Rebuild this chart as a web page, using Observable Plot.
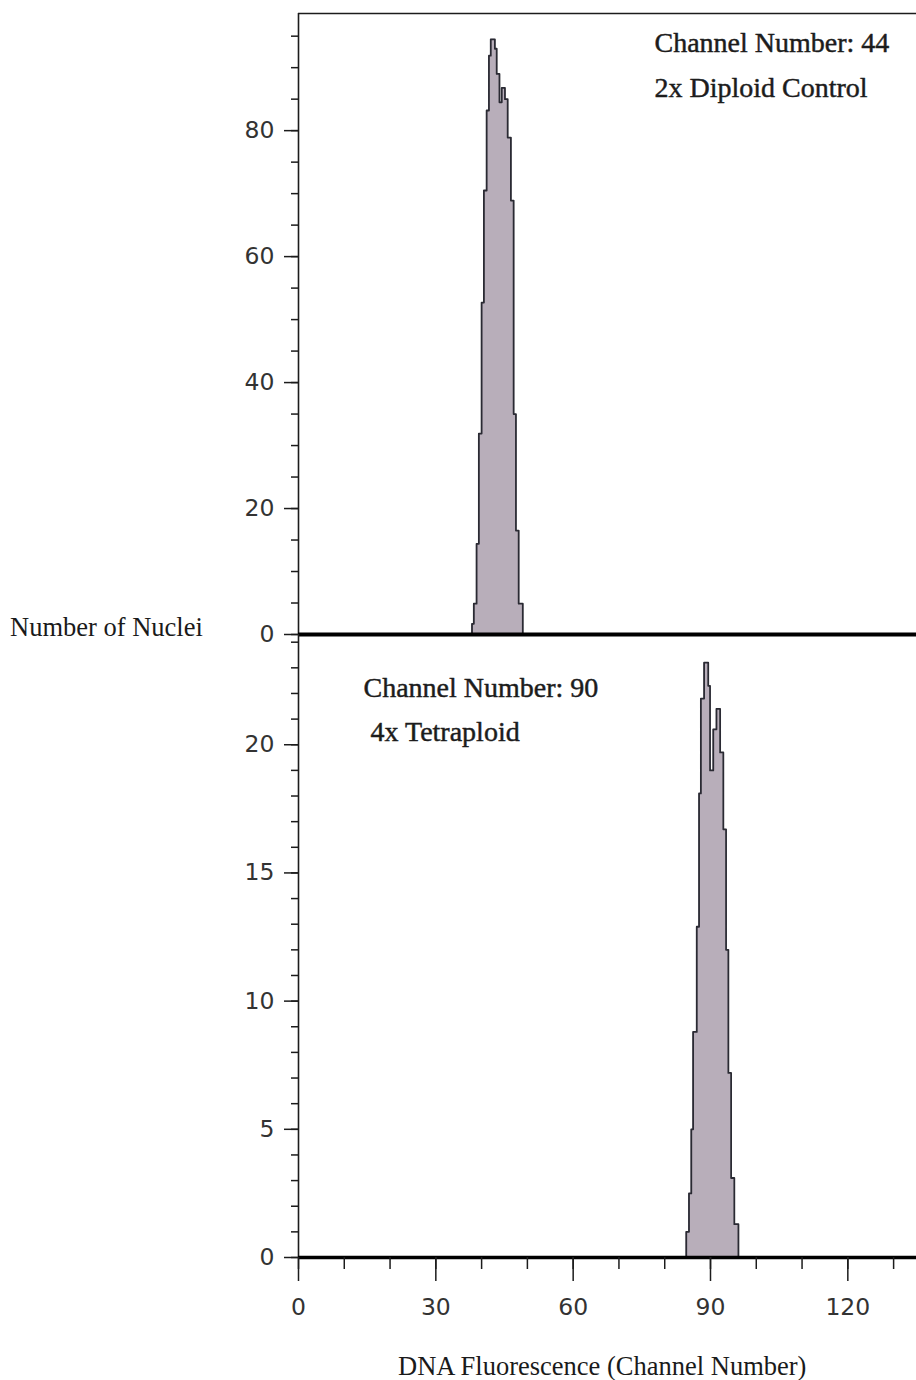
<!DOCTYPE html>
<html>
<head>
<meta charset="utf-8">
<script src="https://cdn.jsdelivr.net/npm/d3@7"></script>
<script src="https://cdn.jsdelivr.net/npm/@observablehq/plot@0.6"></script>
<style>
  html, body { margin: 0; padding: 0; background: #fff; }
  #chart { position: relative; width: 916px; height: 1380px; overflow: hidden; background: #fff; }
  #chart svg { position: absolute; left: 0; overflow: visible; }
  .lbl { position: absolute; font-family: "Liberation Serif", "Times New Roman", serif; color: #1a1a1a; white-space: nowrap; line-height: 1; }
</style>
</head>
<body>
<div id="chart"></div>
<script>
// ---- data ----
const xTicks = [0, 30, 60, 90, 120];
const xMinorTicks = [0, 10, 20, 30, 40, 50, 60, 70, 80, 90, 100, 110, 120, 130];
const topYTicks = [0, 20, 40, 60, 80];
const topYMinorTicks = [0, 5, 10, 15, 20, 25, 30, 35, 40, 45, 50, 55, 60, 65, 70, 75, 80, 85, 90, 95];
const bottomYTicks = [0, 5, 10, 15, 20];
const bottomYMinorTicks = [0, 1, 2, 3, 4, 5, 6, 7, 8, 9, 10, 11, 12, 13, 14, 15, 16, 17, 18, 19, 20, 21, 22, 23, 24];

// diploid control histogram (bin start channel, nuclei count)
const diploidChannel = [37.5, 37.9, 38.3, 38.9, 39.4, 40.0, 40.5, 41.1, 41.6, 42.0, 42.9, 43.3, 43.9, 44.4, 45.1, 45.7, 46.4, 47.0, 47.5, 48.1, 49.0];
const diploidCount   = [0,    1.7,  4.9,  14.4, 31.9, 52.7, 70.5, 83.2, 91.9, 94.5, 93.0, 89.0, 84.5, 86.8, 85.0, 78.9, 68.9, 35.0, 16.5, 4.9,  0];

// tetraploid histogram
const tetraChannel = [84.3, 84.7, 85.3, 85.8, 86.2, 87.0, 87.5, 87.9, 88.6, 89.5, 89.9, 90.6, 91.3, 92.1, 92.8, 93.4, 93.9, 94.5, 95.2, 96.1];
const tetraCount   = [0,    1.0,  2.5,  5.0,  8.8,  12.9, 18.1, 21.8, 23.2, 22.3, 19.0, 20.6, 21.4, 19.7, 16.7, 12.0, 7.2,  3.1,  1.3,  0];

const xDomain = [0, 135];
const topYDomain = [0, 98.6];
const bottomYDomain = [0, 24.3];

const topNote = ["Channel Number: 44", "2x Diploid Control"];
const bottomNote = ["Channel Number: 90", " 4x Tetraploid"];
const yTitle = "Number of Nuclei";
const xTitle = "DNA Fluorescence (Channel Number)";

const diploid = diploidChannel.map((c, i) => ({channel: c, count: diploidCount[i]}));
const tetra = tetraChannel.map((c, i) => ({channel: c, count: tetraCount[i]}));

const FILL = "#b8aeba";
const EDGE = "#2a2a33";
const INK = "#1c1c1c";
const tickFont = "DejaVu Sans, Verdana, sans-serif";
const noteFont = "Liberation Serif, Times New Roman, serif";

const topPlot = Plot.plot({
  width: 916, height: 640,
  marginLeft: 298, marginRight: 0, marginTop: 13, marginBottom: 6,
  x: {domain: xDomain, axis: null},
  y: {domain: topYDomain, axis: null},
  style: {background: "transparent", color: INK},
  marks: [
    Plot.areaY(diploid, {x: "channel", y: "count", curve: "step-after", fill: FILL}),
    Plot.lineY(diploid, {x: "channel", y: "count", curve: "step-after", stroke: EDGE, strokeWidth: 1.8}),
    Plot.ruleY([topYDomain[1]], {stroke: INK, strokeWidth: 1.6}),
    Plot.ruleX([0], {stroke: INK, strokeWidth: 1.6}),
    Plot.ruleY([0], {stroke: "#000", strokeWidth: 4}),
    Plot.axisY({ticks: topYMinorTicks, tickSize: 7, tickFormat: () => "", stroke: INK, strokeWidth: 1.5, label: null}),
    Plot.axisY({ticks: topYTicks, tickSize: 14, tickPadding: 10, stroke: INK, strokeWidth: 1.5,
                fontSize: 23.5, fontFamily: tickFont, fill: "#333", label: null}),
    Plot.text([topNote.join("\n")], {text: d => d, frameAnchor: "top-left", dx: 356, dy: 7,
                lineHeight: 1.6, fontSize: 28, fontFamily: noteFont, fill: INK, stroke: INK, strokeWidth: 0.45,
                textAnchor: "start"})
  ]
});
topPlot.style.top = "0px";

const bottomPlot = Plot.plot({
  width: 916, height: 746,
  marginLeft: 298, marginRight: 0, marginTop: 0, marginBottom: 123,
  x: {domain: xDomain, axis: null},
  y: {domain: bottomYDomain, axis: null},
  style: {background: "transparent", color: INK},
  marks: [
    Plot.areaY(tetra, {x: "channel", y: "count", curve: "step-after", fill: FILL}),
    Plot.lineY(tetra, {x: "channel", y: "count", curve: "step-after", stroke: EDGE, strokeWidth: 1.8}),
    Plot.ruleX([0], {stroke: INK, strokeWidth: 1.6}),
    Plot.ruleY([0], {stroke: "#000", strokeWidth: 3.5}),
    Plot.axisY({ticks: bottomYMinorTicks, tickSize: 7, tickFormat: () => "", stroke: INK, strokeWidth: 1.5, label: null}),
    Plot.axisY({ticks: bottomYTicks, tickSize: 14, tickPadding: 10, stroke: INK, strokeWidth: 1.5,
                fontSize: 23.5, fontFamily: tickFont, fill: "#333", label: null}),
    Plot.axisX({ticks: xMinorTicks, tickSize: 12, tickFormat: () => "", stroke: INK, strokeWidth: 1.5, label: null}),
    Plot.axisX({ticks: xTicks, tickSize: 24, tickPadding: 17, stroke: INK, strokeWidth: 1.5,
                fontSize: 23.5, fontFamily: tickFont, fill: "#333", label: null}),
    Plot.text([bottomNote.join("\n")], {text: d => d, frameAnchor: "top-left", dx: 65, dy: 31,
                lineHeight: 1.57, fontSize: 28, fontFamily: noteFont, fill: INK, stroke: INK, strokeWidth: 0.45,
                textAnchor: "start"})
  ]
});
bottomPlot.style.top = "634px";

const chart = document.getElementById("chart");
chart.appendChild(topPlot);
chart.appendChild(bottomPlot);

const yl = document.createElement("div");
yl.className = "lbl";
yl.textContent = yTitle;
yl.style.left = "10px"; yl.style.top = "614px"; yl.style.fontSize = "26.5px";
chart.appendChild(yl);

const xl = document.createElement("div");
xl.className = "lbl";
xl.textContent = xTitle;
xl.style.left = "398px"; xl.style.top = "1353px"; xl.style.fontSize = "26.5px";
chart.appendChild(xl);
</script>
</body>
</html>
